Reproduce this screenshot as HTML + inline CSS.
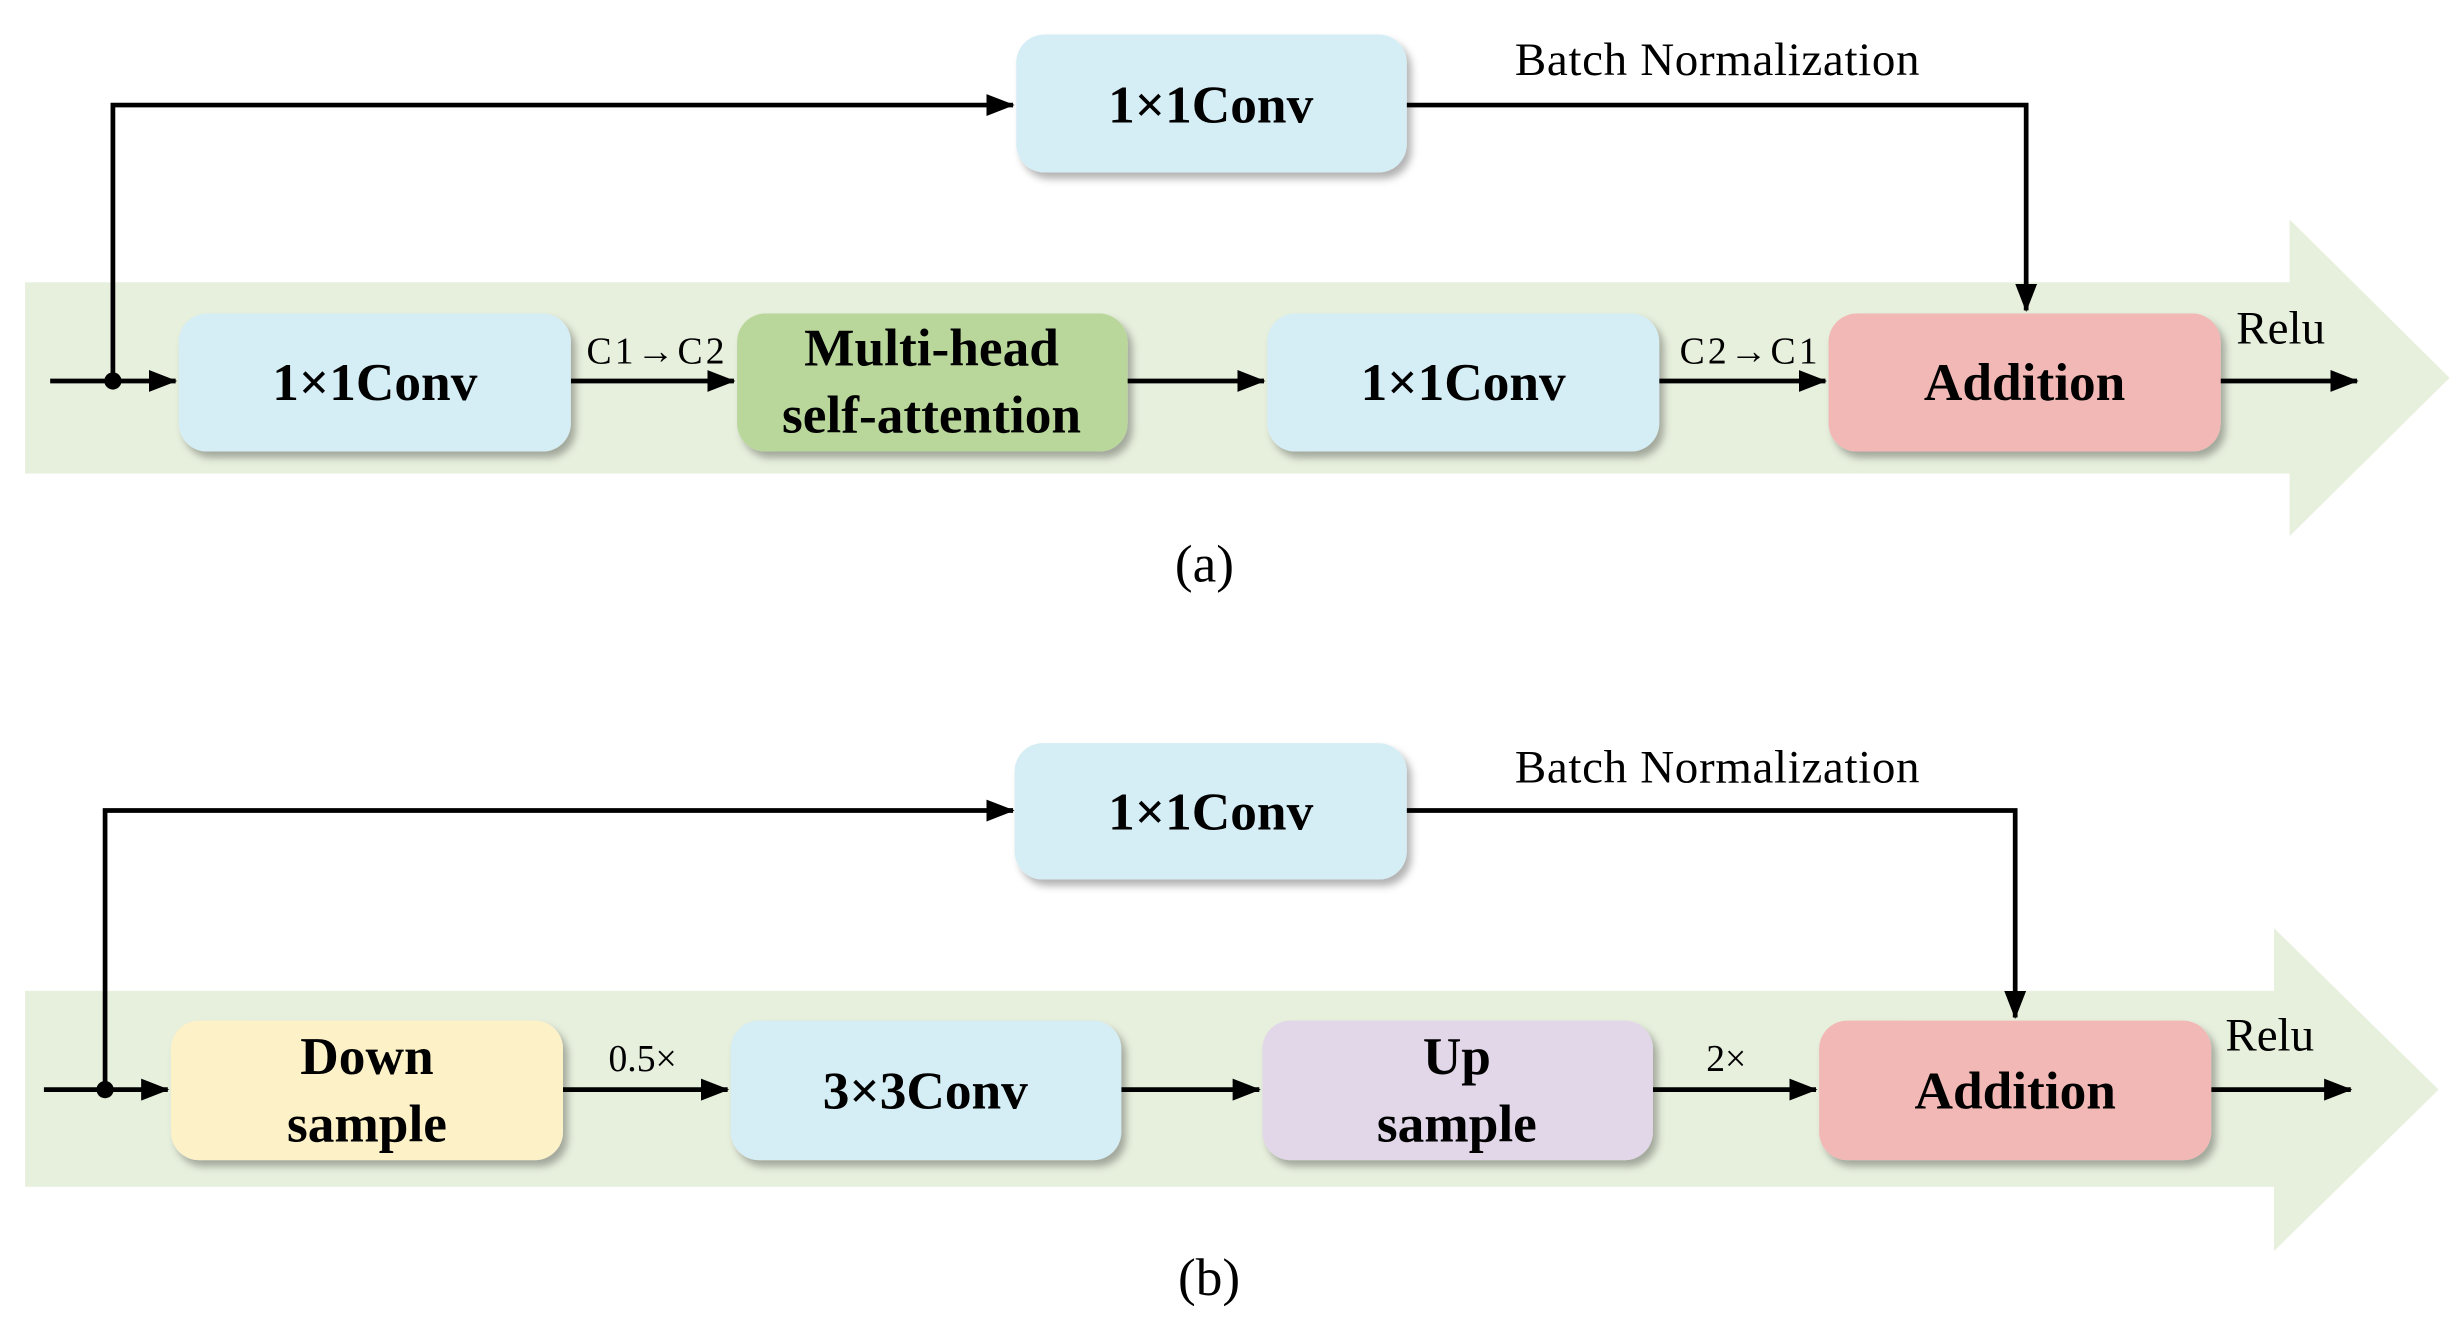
<!DOCTYPE html>
<html><head><meta charset="utf-8"><style>html,body{margin:0;padding:0;background:#fff}svg{display:block}</style></head>
<body>
<svg width="2459" height="1342" viewBox="0 0 1568 856" preserveAspectRatio="none" xmlns="http://www.w3.org/2000/svg" font-family="Liberation Serif, serif">
<defs>
<filter id="sh" x="-10%" y="-20%" width="130%" height="150%"><feDropShadow dx="3" dy="4" stdDeviation="2.5" flood-color="#000" flood-opacity="0.3"/></filter>
<marker id="ar" markerWidth="20" markerHeight="16" refX="17" refY="7" orient="auto" markerUnits="userSpaceOnUse"><path d="M0,0 L18,7 L0,14 Z"/></marker>
</defs>
<polygon points="16,180 1460,180 1460,140 1562,241 1460,342 1460,302 16,302" fill="#e7efdd"/>
<polygon points="16,632 1450,632 1450,592 1555,695 1450,798 1450,757 16,757" fill="#e7efdd"/>
<g stroke="#000" stroke-width="3" fill="none" marker-end="url(#ar)">
<polyline points="72,243 72,67 646,67"/>
<polyline points="897,67 1292,67 1292,198"/>
<line x1="32" y1="243" x2="112" y2="243"/>
<line x1="364" y1="243" x2="468" y2="243"/>
<line x1="719" y1="243" x2="806" y2="243"/>
<line x1="1058" y1="243" x2="1164" y2="243"/>
<line x1="1416" y1="243" x2="1503" y2="243"/>
<polyline points="67,695 67,517 646,517"/>
<polyline points="897,517 1285,517 1285,649"/>
<line x1="28" y1="695" x2="107" y2="695"/>
<line x1="359" y1="695" x2="464" y2="695"/>
<line x1="715" y1="695" x2="803" y2="695"/>
<line x1="1054" y1="695" x2="1158" y2="695"/>
<line x1="1410" y1="695" x2="1499" y2="695"/>
</g>
<circle cx="72" cy="243" r="5.5"/><circle cx="67" cy="695" r="5.5"/>
<g filter="url(#sh)">
<rect x="648" y="22" width="249" height="88" rx="18" fill="#d5edf5"/>
<rect x="114" y="200" width="250" height="88" rx="18" fill="#d5edf5"/>
<rect x="470" y="200" width="249" height="88" rx="18" fill="#b9d79b"/>
<rect x="808" y="200" width="250" height="88" rx="18" fill="#d5edf5"/>
<rect x="1166" y="200" width="250" height="88" rx="18" fill="#f2b8b5"/>
<rect x="647" y="474" width="250" height="87" rx="18" fill="#d5edf5"/>
<rect x="109" y="651" width="250" height="89" rx="18" fill="#fdf1c8"/>
<rect x="466" y="651" width="249" height="89" rx="18" fill="#d5edf5"/>
<rect x="805" y="651" width="249" height="89" rx="18" fill="#e2d7e9"/>
<rect x="1160" y="651" width="250" height="89" rx="18" fill="#f2b8b5"/>
</g>
<g font-weight="bold" font-size="34" text-anchor="middle">
<text x="772" y="78">1×1Conv</text>
<text x="239" y="255">1×1Conv</text>
<text x="594" y="233">Multi-head</text>
<text x="594" y="276">self-attention</text>
<text x="933" y="255">1×1Conv</text>
<text x="1291" y="255">Addition</text>
<text x="772" y="529">1×1Conv</text>
<text x="234" y="685">Down</text>
<text x="234" y="728">sample</text>
<text x="590" y="707">3×3Conv</text>
<text x="929" y="685">Up</text>
<text x="929" y="728">sample</text>
<text x="1285" y="707">Addition</text>
</g>
<g font-size="30">
<text x="966" y="48" textLength="258">Batch Normalization</text>
<text x="966" y="499" textLength="258">Batch Normalization</text>
<text x="1426" y="219">Relu</text>
<text x="1419" y="670">Relu</text>
<text x="768" y="371" text-anchor="middle" font-size="34">(a)</text>
<text x="771" y="826" text-anchor="middle" font-size="34">(b)</text>
</g>
<g font-size="24">
<text x="374" y="232" textLength="88">C1→C2</text>
<text x="1071" y="232" textLength="88">C2→C1</text>
<text x="388" y="683">0.5×</text>
<text x="1088" y="683">2×</text>
</g>
</svg>
</body></html>
